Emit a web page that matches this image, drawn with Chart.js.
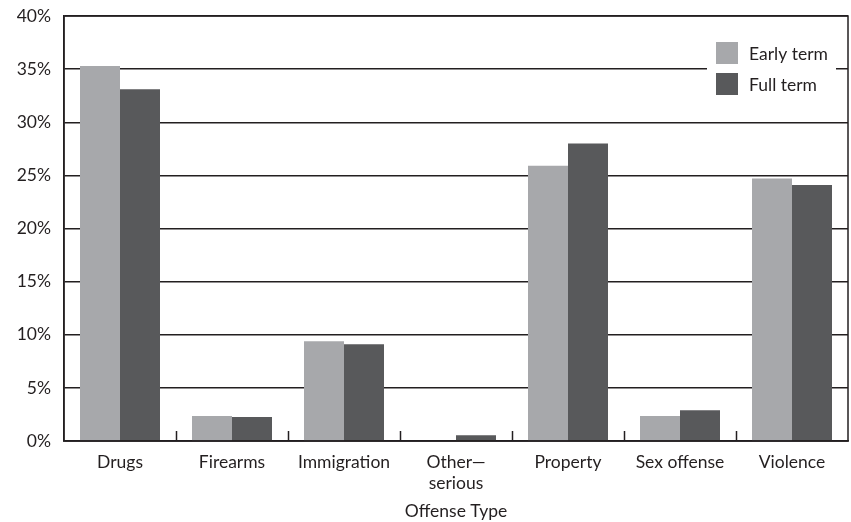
<!DOCTYPE html>
<html>
<head>
<meta charset="utf-8">
<script src="https://cdn.jsdelivr.net/npm/chart.js"></script>
<style>
  html, body { margin: 0; padding: 0; background: #fff; }
  canvas { display: block; }
</style>
</head>
<body>
<canvas id="chart" width="851" height="522"></canvas>
<script>
// datos
const categorias = ["Drugs", "Firearms", "Immigration", ["Other\u2014", "serious"], "Property", "Sex offense", "Violence"];
const earlyTerm = [35.3, 2.35, 9.4, 0, 25.9, 2.35, 24.7];
const fullTerm = [33.1, 2.25, 9.1, 0.55, 28.0, 2.9, 24.1];
const seriesNames = ["Early term", "Full term"];
const yTicks = [0, 5, 10, 15, 20, 25, 30, 35, 40];

const tinta = "#231f20";
const fuente = "Lato, 'Open Sans', sans-serif";
const tam = 17.5;

// marco, marcas del eje x y leyenda dentro del area
const extras = {
    id: "extras",
    afterDraw(chart) {
        const ctx = chart.ctx;
        const a = chart.chartArea;
        const x = chart.scales.x;
        ctx.save();
        ctx.strokeStyle = tinta;
        ctx.lineWidth = 1.5;
        ctx.strokeRect(a.left, a.top, a.right - a.left, a.bottom - a.top);
        // marcas entre categorias
        for (let i = 1; i < categorias.length; i++) {
            const px = (x.getPixelForTick(i - 1) + x.getPixelForTick(i)) / 2;
            ctx.beginPath();
            ctx.moveTo(Math.round(px) + 0.5, a.bottom);
            ctx.lineTo(Math.round(px) + 0.5, a.bottom - 10);
            ctx.stroke();
        }
        // leyenda
        const lx = a.right - 141, ly = a.top + 19;
        ctx.fillStyle = "#fff";
        ctx.fillRect(lx, ly, 129, 67);
        ctx.font = tam + "px " + fuente;
        ctx.textBaseline = "middle";
        chart.data.datasets.forEach((ds, i) => {
            const y = ly + 7 + i * 31;
            ctx.fillStyle = ds.backgroundColor;
            ctx.fillRect(lx + 9, y, 22, 22);
            ctx.fillStyle = tinta;
            ctx.fillText(ds.label, lx + 42, y + 12);
        });
        ctx.restore();
    }
};

new Chart(document.getElementById("chart"), {
    type: "bar",
    data: {
        labels: categorias,
        datasets: [
            { label: seriesNames[0], data: earlyTerm, backgroundColor: "#a7a8ab" },
            { label: seriesNames[1], data: fullTerm, backgroundColor: "#58595b" },
        ],
    },
    options: {
        responsive: false,
        animation: false,
        categoryPercentage: 80 / 112,
        barPercentage: 1.0,
        layout: { padding: { top: 16, right: 3, left: 0, bottom: 0 } },
        scales: {
            y: {
                min: 0,
                max: 40,
                afterBuildTicks(scale) {
                    scale.ticks = yTicks.map((v) => ({ value: v }));
                },
                afterFit(scale) {
                    scale.width = 64;
                    scale.paddingTop = 0;
                    scale.paddingBottom = 0;
                },
                ticks: {
                    color: tinta,
                    padding: 13,
                    font: { family: fuente, size: tam },
                    callback: (v) => v + "%",
                },
                grid: { color: tinta, lineWidth: 1.5, drawTicks: false },
                border: { display: true, color: tinta, width: 1.5 },
            },
            x: {
                afterFit(scale) { scale.height = 81; },
                ticks: {
                    color: tinta,
                    padding: 3,
                    font: { family: fuente, size: tam, lineHeight: 1.2 },
                    maxRotation: 0,
                    autoSkip: false,
                },
                grid: { display: false },
                border: { display: true, color: tinta, width: 1.5 },
                title: {
                    display: true,
                    text: "Offense Type",
                    color: tinta,
                    font: { family: fuente, size: tam },
                    padding: { top: 0, bottom: 0 },
                },
            },
        },
        plugins: {
            legend: { display: false },
            tooltip: { enabled: false },
        },
    },
    plugins: [extras],
});
</script>
</body>
</html>
